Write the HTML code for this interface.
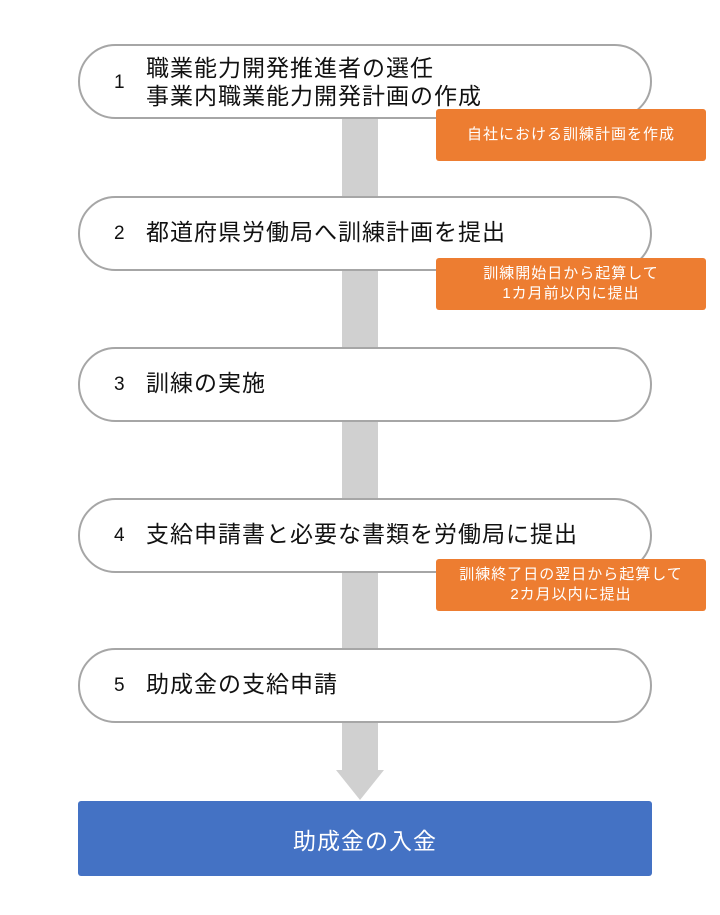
<!DOCTYPE html>
<html><head><meta charset="utf-8"><style>
body{margin:0;width:720px;height:915px;background:#fff;position:relative;overflow:hidden;font-family:"Liberation Sans","Noto Sans CJK JP",sans-serif;}
.bar{position:absolute;left:342px;width:36px;background:#d0d0d0;}
.pill{position:absolute;left:78px;width:570px;height:71px;border:2.5px solid #a6a6a6;border-radius:38px;background:#fff;}
.num{position:absolute;left:34px;font-size:19px;color:#111;}
.lbl{position:absolute;left:66px;font-size:23px;letter-spacing:1px;color:#111;line-height:28px;white-space:nowrap;}
.or{position:absolute;left:436px;width:270px;height:52px;background:#ed7d31;border-radius:3px;color:#fff;font-size:15px;letter-spacing:1px;display:flex;align-items:center;justify-content:center;text-align:center;line-height:20px;}
</style></head><body>
<div class="bar" style="top:110px;height:660px"></div>
<svg style="position:absolute;left:336px;top:770px" width="48" height="31"><polygon points="0,0 48,0 24,30" fill="#d0d0d0"/></svg>

<div class="pill" style="top:44px"><div class="num" style="top:26px">1</div><div class="lbl" style="top:8px">職業能力開発推進者の選任<br>事業内職業能力開発計画の作成</div></div>
<div class="pill" style="top:196px"><div class="num" style="top:25px">2</div><div class="lbl" style="top:20px">都道府県労働局へ訓練計画を提出</div></div>
<div class="pill" style="top:347px"><div class="num" style="top:25px">3</div><div class="lbl" style="top:20px">訓練の実施</div></div>
<div class="pill" style="top:498px"><div class="num" style="top:25px">4</div><div class="lbl" style="top:20px">支給申請書と必要な書類を労働局に提出</div></div>
<div class="pill" style="top:648px"><div class="num" style="top:25px">5</div><div class="lbl" style="top:20px">助成金の支給申請</div></div>

<div class="or" style="top:109px">自社における訓練計画を作成</div>
<div class="or" style="top:258px">訓練開始日から起算して<br>1カ月前以内に提出</div>
<div class="or" style="top:559px">訓練終了日の翌日から起算して<br>2カ月以内に提出</div>

<div style="position:absolute;left:78px;top:801px;width:574px;height:75px;background:#4472c4;border-radius:3px;color:#fff;font-size:23px;letter-spacing:1px;display:flex;align-items:center;justify-content:center;">助成金の入金</div>
</body></html>
